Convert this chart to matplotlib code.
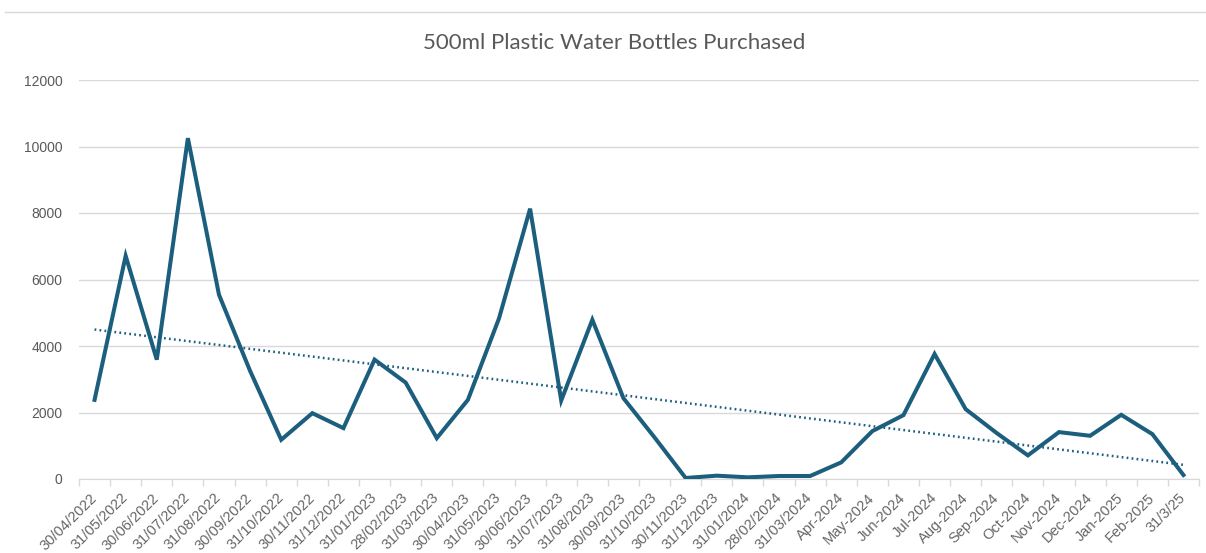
import numpy as np
import matplotlib.pyplot as plt
from matplotlib.lines import Line2D

plt.rcParams['font.family'] = ['Liberation Sans', 'DejaVu Sans']

dates = ['30/04/2022', '31/05/2022', '30/06/2022', '31/07/2022', '31/08/2022', '30/09/2022',
         '31/10/2022', '30/11/2022', '31/12/2022', '31/01/2023', '28/02/2023', '31/03/2023',
         '30/04/2023', '31/05/2023', '30/06/2023', '31/07/2023', '31/08/2023', '30/09/2023',
         '31/10/2023', '30/11/2023', '31/12/2023', '31/01/2024', '28/02/2024', '31/03/2024',
         'Apr-2024', 'May-2024', 'Jun-2024', 'Jul-2024', 'Aug-2024', 'Sep-2024',
         'Oct-2024', 'Nov-2024', 'Dec-2024', 'Jan-2025', 'Feb-2025', '31/3/25']
bottles = [2380, 6710, 3590, 10250, 5540, 3250,
           1180, 1980, 1530, 3590, 2900, 1230,
           2380, 4830, 8130, 2360, 4790, 2430,
           1250, 30, 100, 50, 90, 90,
           500, 1440, 1920, 3760, 2100, 1380,
           710, 1410, 1300, 1930, 1350, 120]

line_col = '#1B5E7D'
txt_col = '#595959'
grid_col = '#D9D9D9'

fig = plt.figure(figsize=(12.06, 5.53), dpi=100)
ax = fig.add_axes([79/1206, 1-479/553, 1120/1206, 399/553])

x = np.arange(len(bottles))
ax.plot(x, bottles, color=line_col, lw=2.9, solid_joinstyle='miter', zorder=3)

# linear trendline like excel
k, b = np.polyfit(x, bottles, 1)
ax.plot(x, k*x + b, color=line_col, lw=1.8, ls=(0, (0.7, 1.3)), zorder=2)

ax.set_xlim(-0.5, len(bottles) - 0.5)
ax.set_ylim(0, 12000)
ax.set_yticks(np.arange(0, 12001, 2000))
ax.yaxis.grid(True, color=grid_col, lw=1)
ax.set_axisbelow(True)
ax.tick_params(axis='y', length=0, pad=12, labelsize=10, labelcolor=txt_col)

ax.set_xticks(np.arange(-0.5, len(bottles)), [''] * (len(bottles) + 1))
ax.set_xticks(x, dates, minor=True)
ax.tick_params(axis='x', which='major', length=5, color=grid_col, width=1)
ax.tick_params(axis='x', which='minor', length=0, pad=12, labelsize=10.5, labelcolor='#666666')
for lab in ax.get_xticklabels(minor=True):
    lab.set_rotation(45)
    lab.set_ha('right')
    lab.set_va('center')
    lab.set_rotation_mode('anchor')

for s in ['top', 'right', 'left']:
    ax.spines[s].set_visible(False)
ax.spines['bottom'].set_color(grid_col)

fig.text(614/1206, 1-43/553, '500ml Plastic Water Bottles Purchased', ha='center', va='center',
         fontsize=16, color=txt_col, family=['Lato', 'DejaVu Sans'])

# sheet border line along the top
fig.add_artist(Line2D([5/1206, 1], [1-12/553, 1-12/553], color=grid_col, lw=1))

fig.savefig('out.png', dpi=100)
